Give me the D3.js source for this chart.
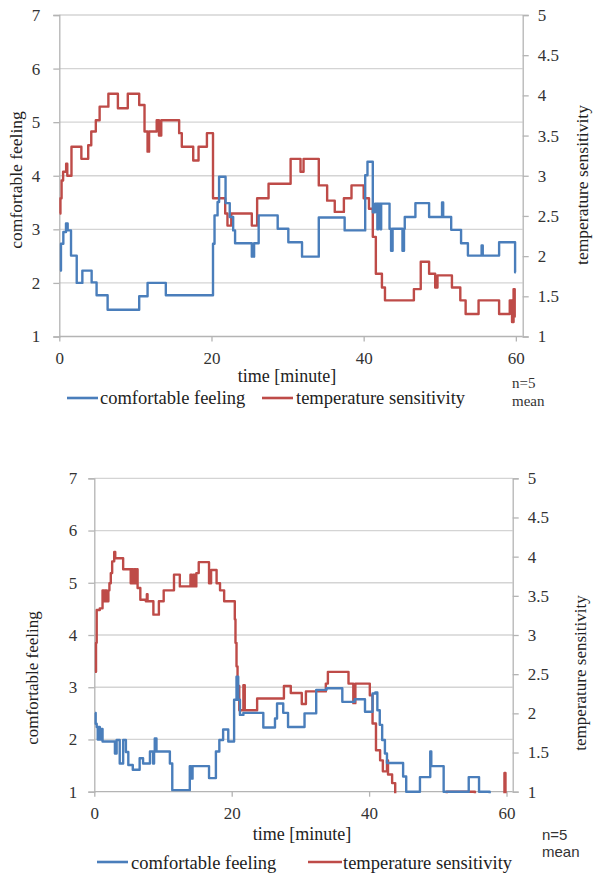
<!DOCTYPE html>
<html><head><meta charset="utf-8">
<script src="https://cdn.jsdelivr.net/npm/d3@7"></script>
<style>
html,body{margin:0;padding:0;background:#fff;}
svg{display:block;}
.serif{font-family:"Liberation Serif","DejaVu Serif",serif;}
.sans{font-family:"Liberation Sans","DejaVu Sans",sans-serif;}
</style></head>
<body>
<svg id="c" width="595" height="874"></svg>
<script>
// ---------- DATA ----------
const timeTicks = [0, 20, 40, 60];
const comfortTicks = [1, 2, 3, 4, 5, 6, 7];
const tempTicks = [1, 1.5, 2, 2.5, 3, 3.5, 4, 4.5, 5];
const seriesNames = ["comfortable feeling", "temperature sensitivity"];

// Chart 1 (top) - comfortable feeling (left axis)
const c1ComfortT = [0.09,0.22,0.53,0.88,1.1,1.54,2.29,3.03,4.25,4.9,6.35,10.5,11.6,14.0,20.2,20.4,20.8,21.0,21.85,22.4,22.85,23.1,25.3,25.6,26.2,28.7,30.1,31.9,34.1,37.5,40.2,40.5,41.2,41.5,41.8,41.9,42.2,42.3,43.4,43.6,43.8,45.1,45.3,45.4,46.8,48.6,50.3,50.45,51.5,52.8,53.7,55.5,55.65,57.8,59.9,60.0];
const c1ComfortV = [2.23,2.73,2.95,3.11,2.98,2.51,2.0,2.23,2.01,1.77,1.5,1.75,2.0,1.77,2.73,3.26,3.51,3.98,3.49,3.23,2.98,2.74,2.49,2.74,3.26,3.01,2.76,2.49,3.22,2.98,4.01,4.26,3.32,3.48,3.0,3.48,3.0,3.48,3.01,2.6,3.01,2.6,3.01,3.23,3.49,3.23,3.5,3.23,2.99,2.74,2.51,2.7,2.51,2.76,2.2,2.2];
// Chart 1 (top) - temperature sensitivity (right axis)
const c1TempT = [0.05,0.15,0.3,0.5,0.9,1.05,1.6,2.9,3.8,4.2,4.8,5.3,6.45,7.7,9.0,10.5,11.2,11.6,11.8,12.8,13.1,13.4,15.75,16.1,17.6,18.3,19.4,20.2,21.8,22.1,22.6,25.3,26.0,27.5,30.4,31.7,32.1,34.1,35.2,36.2,37.4,38.4,40.0,40.7,41.2,41.6,42.4,42.8,46.6,47.5,48.6,49.4,49.7,51.6,52.7,53.4,55.1,57.8,59.2,59.5,59.7,59.85,60.0];
const c1TempV = [2.53,2.72,2.94,3.05,3.15,3.0,3.36,3.21,3.38,3.55,3.69,3.86,4.02,3.84,4.02,3.88,3.55,3.3,3.55,3.69,3.5,3.69,3.53,3.36,3.19,3.36,3.53,2.72,2.53,2.38,2.53,2.38,2.72,2.9,3.21,3.05,3.21,2.88,2.69,2.55,2.72,2.88,2.72,2.59,2.24,1.78,1.61,1.45,1.59,1.93,1.78,1.61,1.76,1.61,1.45,1.28,1.45,1.28,1.45,1.18,1.59,1.25,1.25];

// Chart 2 (bottom) - comfortable feeling (left axis)
const c2ComfortT = [0.1,0.2,0.35,0.5,0.6,0.8,1.0,1.2,3.0,3.25,3.7,4.2,4.6,4.95,5.6,6.6,7.1,8.1,8.55,8.7,8.8,9.05,11.0,11.35,13.9,14.1,14.3,16.7,17.7,18.2,18.75,19.5,20.35,20.7,20.95,21.2,21.7,24.6,26.3,26.6,27.5,28.2,30.6,32.3,33.8,36.1,37.9,39.4,40.5,40.9,41.2,41.55,41.9,42.3,42.6,44.95,45.4,47.4,48.9,49.05,50.85,54.5,56.0,57.55,60.0];
const c2ComfortV = [2.51,2.3,2.24,2.0,2.24,2.0,2.2,1.96,1.73,1.99,1.54,1.99,1.76,1.51,1.42,1.64,1.54,1.77,1.54,1.77,2.02,1.77,1.54,1.03,1.49,1.25,1.49,1.26,1.77,1.99,2.19,1.96,2.76,3.2,2.76,2.47,2.51,2.23,2.4,2.69,2.51,2.24,2.5,2.95,2.98,2.72,2.77,2.53,2.88,2.9,2.56,2.28,1.99,1.73,1.55,1.29,1.0,1.28,1.77,1.49,1.0,1.28,1.0,0.8,0.8];
// Chart 2 (bottom) - temperature sensitivity (right axis)
const c2TempT = [0.1,0.25,0.35,0.8,1.2,1.4,1.55,1.8,2.05,2.2,2.4,2.6,2.9,3.05,4.2,5.3,5.45,5.65,5.85,6.0,6.2,6.3,6.7,7.5,7.65,7.75,8.6,9.4,10.1,11.6,12.45,14.0,14.2,14.4,14.6,14.85,15.2,16.7,17.0,17.8,18.3,18.9,20.45,20.55,20.7,20.85,21.1,21.7,21.9,23.7,27.6,28.6,30.2,30.8,33.7,34.0,37.0,37.7,38.0,40.1,40.5,41.0,41.6,42.0,42.6,42.75,43.35,43.8,51.3,55.4,59.7,59.85,60.0];
const c2TempV = [2.53,2.9,3.32,3.34,3.57,3.43,3.57,3.43,3.57,3.66,3.79,3.94,4.06,3.98,3.84,3.66,3.84,3.66,3.84,3.66,3.84,3.6,3.45,3.43,3.52,3.43,3.26,3.43,3.57,3.77,3.62,3.77,3.62,3.77,3.62,3.79,3.93,3.66,3.83,3.66,3.57,3.43,3.2,2.9,2.6,2.35,2.04,2.36,2.04,2.19,2.35,2.26,2.12,2.28,2.38,2.53,2.38,2.13,2.38,2.23,1.87,1.53,1.4,1.26,1.4,1.22,1.11,0.8,1.0,0.8,1.24,0.8,0.8];

// ---------- DRAW ----------
const svg = d3.select("#c");
const BLUE = "#4a7ebb", RED = "#be4b48";
const GRID = "#d4d4d4", AXIS = "#b4b4b4";

function pts(T, V) { return T.map((t, i) => [t, V[i]]); }

function drawChart(cfg) {
  const x = d3.scaleLinear().domain([0, cfg.xMax]).range([cfg.left, cfg.right]);
  const yL = d3.scaleLinear().domain([1, 7]).range([cfg.bottom, cfg.top]);
  const yR = d3.scaleLinear().domain([1, 5]).range([cfg.bottom, cfg.top]);
  const g = svg.append("g");

  g.append("g").selectAll("line").data(comfortTicks.filter(d => d > 1)).join("line")
    .attr("x1", cfg.left).attr("x2", cfg.right)
    .attr("y1", d => yL(d)).attr("y2", d => yL(d))
    .attr("stroke", GRID).attr("stroke-width", 1.3);

  const la = g.append("g").attr("transform", `translate(${cfg.left},0)`)
    .call(d3.axisLeft(yL).tickValues(comfortTicks).tickSize(6).tickPadding(cfg.lPad).tickFormat(d3.format("d")));
  const ra = g.append("g").attr("transform", `translate(${cfg.right},0)`)
    .call(d3.axisRight(yR).tickValues(tempTicks).tickSize(6).tickPadding(cfg.rPad).tickFormat(d => d));
  const ba = g.append("g").attr("transform", `translate(0,${cfg.bottom})`)
    .call(d3.axisBottom(x).tickValues(timeTicks).tickSize(5).tickPadding(cfg.bPad).tickFormat(d3.format("d")));
  [la, ra, ba].forEach(a => {
    a.attr("font-family", null).attr("font-size", null);
    a.select(".domain").attr("stroke", AXIS).attr("stroke-width", 1.3);
    a.selectAll(".tick line").attr("stroke", AXIS).attr("stroke-width", 1.3);
    a.selectAll("text").attr("fill", "#333").attr("class", "serif").style("font-size", "17px");
  });
  ba.select(".domain").attr("d", `M${cfg.left},0H${cfg.right}`);

  const cid = "clip" + cfg.id;
  svg.append("defs").append("clipPath").attr("id", cid).append("rect")
    .attr("x", cfg.left - 2).attr("y", cfg.top - 3)
    .attr("width", cfg.right - cfg.left + 4).attr("height", cfg.bottom - cfg.top + 4.5);

  const lineL = d3.line().x(d => x(d[0])).y(d => yL(d[1])).curve(d3.curveStepAfter);
  const lineR = d3.line().x(d => x(d[0])).y(d => yR(d[1])).curve(d3.curveStepAfter);
  const lg = g.append("g").attr("clip-path", `url(#${cid})`);
  lg.append("path").datum(pts(cfg.tempT, cfg.tempV)).attr("d", lineR)
    .attr("fill", "none").attr("stroke", RED).attr("stroke-width", 2.4).attr("stroke-linejoin", "round");
  lg.append("path").datum(pts(cfg.comfT, cfg.comfV)).attr("d", lineL)
    .attr("fill", "none").attr("stroke", BLUE).attr("stroke-width", 2.4).attr("stroke-linejoin", "round");

  g.append("text").attr("x", cfg.xtX).attr("y", cfg.xtY).attr("text-anchor", "middle").attr("class", "serif")
    .style("font-size", "18px").attr("fill", "#222").text("time [minute]");
  g.append("text").attr("transform", `translate(${cfg.ylX},${cfg.ylY}) rotate(-90)`).attr("dy", "0.32em")
    .attr("text-anchor", "middle").attr("class", "serif").style("font-size", cfg.ylSize + "px")
    .attr("fill", "#222").text(seriesNames[0]);
  g.append("text").attr("transform", `translate(${cfg.yrX},${cfg.yrY}) rotate(-90)`).attr("dy", "0.32em")
    .attr("text-anchor", "middle").attr("class", "serif").style("font-size", cfg.yrSize + "px")
    .attr("fill", "#222").text(seriesNames[1]);

  const leg = [
    { c: BLUE, x1: cfg.lg1[0], x2: cfg.lg1[1], tx: cfg.lg1[2], name: seriesNames[0] },
    { c: RED, x1: cfg.lg2[0], x2: cfg.lg2[1], tx: cfg.lg2[2], name: seriesNames[1] }
  ];
  leg.forEach(l => {
    g.append("line").attr("x1", l.x1).attr("x2", l.x2).attr("y1", cfg.legY).attr("y2", cfg.legY)
      .attr("stroke", l.c).attr("stroke-width", 2.6);
    g.append("text").attr("x", l.tx).attr("y", cfg.legBase).attr("class", "serif")
      .style("font-size", "18.5px").attr("fill", "#222").text(l.name);
  });
  g.append("text").attr("x", cfg.nX).attr("y", cfg.nY).attr("class", cfg.nFont)
    .style("font-size", "15px").attr("fill", "#333").text("n=5");
  g.append("text").attr("x", cfg.nX).attr("y", cfg.nY + cfg.nGap).attr("class", cfg.nFont)
    .style("font-size", "15px").attr("fill", "#333").text("mean");
}

drawChart({
  id: 1, left: 59.3, right: 522.7, top: 15, bottom: 336.5, xMax: 60.9,
  lPad: 13, rPad: 9, bPad: 10,
  comfT: c1ComfortT, comfV: c1ComfortV, tempT: c1TempT, tempV: c1TempV,
  xtX: 287, xtY: 382, ylX: 16, ylY: 180, ylSize: 17.5, yrX: 582, yrY: 185, yrSize: 17.5,
  lg1: [67, 98, 100], lg2: [262, 293, 296], legY: 398, legBase: 404,
  nX: 512, nY: 388, nGap: 18, nFont: "serif"
});
drawChart({
  id: 2, left: 94.3, right: 512.7, top: 478.3, bottom: 791.7, xMax: 60.9,
  lPad: 11, rPad: 9, bPad: 10,
  comfT: c2ComfortT, comfV: c2ComfortV, tempT: c2TempT, tempV: c2TempV,
  xtX: 302, xtY: 840, ylX: 33, ylY: 678, ylSize: 17, yrX: 581, yrY: 673, yrSize: 17,
  lg1: [97, 128, 131], lg2: [308, 342, 343], legY: 862, legBase: 869,
  nX: 542, nY: 840, nGap: 17, nFont: "sans"
});
</script>
</body></html>
